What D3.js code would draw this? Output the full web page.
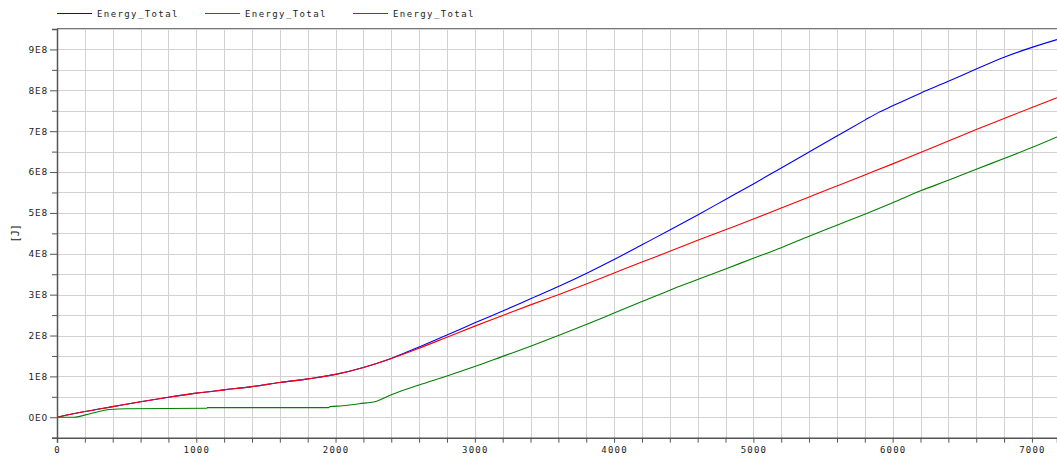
<!DOCTYPE html>
<html>
<head>
<meta charset="utf-8">
<script src="https://cdn.jsdelivr.net/npm/d3@7"></script>
<style>
  html, body { margin: 0; padding: 0; background: #fff; }
  svg { display: block; }
  text { font-family: "DejaVu Sans Mono", monospace; fill: #222; }
</style>
</head>
<body>
<svg id="chart" width="1057" height="458"></svg>
<script>
// ---- data ----
const seriesNames = ["Energy_Total", "Energy_Total", "Energy_Total"];
const seriesColors = ["#0000ff", "#ff0000", "#008000"];

const timeBlue = [0, 200, 400, 600, 800, 1000, 1200, 1400, 1600, 1800, 2000, 2200, 2400, 2600, 2800, 3000, 3200, 3400, 3600, 3800, 4000, 4200, 4400, 4600, 4800, 5000, 5200, 5400, 5600, 5800, 5900, 6000, 6200, 6400, 6600, 6800, 7000, 7180];
const blueValues = [0, 0.14e8, 0.26e8, 0.38e8, 0.49e8, 0.59e8, 0.67e8, 0.75e8, 0.85e8, 0.94e8, 1.05e8, 1.22e8, 1.44e8, 1.72e8, 2.01e8, 2.31e8, 2.60e8, 2.90e8, 3.20e8, 3.52e8, 3.86e8, 4.22e8, 4.58e8, 4.95e8, 5.33e8, 5.71e8, 6.10e8, 6.49e8, 6.88e8, 7.27e8, 7.46e8, 7.62e8, 7.93e8, 8.22e8, 8.52e8, 8.81e8, 9.05e8, 9.24e8];

const timeRed = [0, 200, 400, 600, 800, 1000, 1200, 1400, 1600, 1800, 2000, 2200, 2400, 2600, 2800, 3000, 3200, 3400, 3600, 3800, 4000, 4200, 4400, 4600, 4800, 5000, 5200, 5400, 5600, 5800, 6000, 6200, 6400, 6600, 6800, 7000, 7180];
const redValues = [0, 0.14e8, 0.26e8, 0.38e8, 0.49e8, 0.59e8, 0.67e8, 0.75e8, 0.85e8, 0.94e8, 1.05e8, 1.22e8, 1.44e8, 1.69e8, 1.96e8, 2.23e8, 2.49e8, 2.75e8, 3.00e8, 3.26e8, 3.53e8, 3.80e8, 4.06e8, 4.33e8, 4.59e8, 4.85e8, 5.12e8, 5.39e8, 5.66e8, 5.93e8, 6.20e8, 6.48e8, 6.76e8, 7.04e8, 7.31e8, 7.58e8, 7.82e8];

const timeGreen = [0, 120, 250, 380, 500, 1075, 1080, 1950, 1960, 2050, 2170, 2300, 2400, 2600, 2800, 3000, 3200, 3400, 3600, 3800, 4000, 4200, 4400, 4600, 4800, 5000, 5200, 5400, 5600, 5800, 6000, 6200, 6400, 6600, 6800, 7000, 7180];
const greenValues = [0, 0, 0.10e8, 0.19e8, 0.21e8, 0.22e8, 0.235e8, 0.235e8, 0.26e8, 0.28e8, 0.33e8, 0.40e8, 0.55e8, 0.79e8, 1.01e8, 1.24e8, 1.49e8, 1.74e8, 2.00e8, 2.27e8, 2.55e8, 2.83e8, 3.11e8, 3.37e8, 3.63e8, 3.89e8, 4.15e8, 4.43e8, 4.70e8, 4.97e8, 5.25e8, 5.54e8, 5.80e8, 6.07e8, 6.33e8, 6.60e8, 6.86e8];

const xTickLabels = [0, 1000, 2000, 3000, 4000, 5000, 6000, 7000];
const yTickLabels = [0, 1e8, 2e8, 3e8, 4e8, 5e8, 6e8, 7e8, 8e8, 9e8];
const yAxisTitle = "[J]";

// ---- layout ----
const svg = d3.select("#chart");
const plotLeft = 57, plotRight = 1057, plotTop = 29, plotBottom = 437.7;

const x = d3.scaleLinear().domain([0, 7180]).range([plotLeft, plotRight]);
const y = d3.scaleLinear().domain([-0.5e8, 9.5e8]).range([plotBottom, plotTop]);

const xGrid = d3.range(200, 7181, 200);
const yGrid = d3.range(-0.5e8, 9.51e8, 0.5e8);

// grid
const g = svg.append("g");
g.selectAll("line.vg").data(xGrid).enter().append("line")
  .attr("x1", d => Math.round(x(d)) + 0.5).attr("x2", d => Math.round(x(d)) + 0.5)
  .attr("y1", plotTop).attr("y2", plotBottom)
  .attr("stroke", "#d2d2d2").attr("stroke-width", 1);
g.selectAll("line.hg").data(yGrid).enter().append("line")
  .attr("x1", plotLeft).attr("x2", plotRight)
  .attr("y1", d => Math.round(y(d)) + 0.5).attr("y2", d => Math.round(y(d)) + 0.5)
  .attr("stroke", "#d2d2d2").attr("stroke-width", 1);

// top border
svg.append("line").attr("x1", plotLeft).attr("x2", plotRight)
  .attr("y1", plotTop - 0.5).attr("y2", plotTop - 0.5)
  .attr("stroke", "#777").attr("stroke-width", 1);

// series
const series = [
  { t: timeBlue, v: blueValues, c: seriesColors[0] },
  { t: timeRed, v: redValues, c: seriesColors[1] },
  { t: timeGreen, v: greenValues, c: seriesColors[2] }
];
const line = d3.line().x(d => x(d[0])).y(d => y(d[1])).curve(d3.curveMonotoneX);
series.forEach(s => {
  svg.append("path")
    .datum(s.t.map((t, i) => [t, s.v[i]]))
    .attr("d", line)
    .attr("fill", "none")
    .attr("stroke", s.c)
    .attr("stroke-width", 1.1);
});

// x axis
const xMinor = d3.range(0, 7181, 200);
const xAxis = d3.axisBottom(x).tickValues(xMinor)
  .tickSize(5)
  .tickFormat(d => xTickLabels.includes(d) ? String(d) : "");
const xa = svg.append("g").attr("transform", `translate(0,${plotBottom})`).call(xAxis);
xa.select(".domain").attr("stroke", "#555").attr("stroke-width", 1.5);
xa.selectAll(".tick line").attr("stroke", "#555");
xa.selectAll(".tick text").attr("font-size", 9).attr("letter-spacing", 1.2)
  .attr("fill", "#222").attr("y", 9).attr("dy", "0.71em")
  .style("font-family", "'DejaVu Sans Mono', monospace");

// y axis
const yMinor = d3.range(-0.5e8, 9.51e8, 0.5e8);
const yAxis = d3.axisLeft(y).tickValues(yMinor)
  .tickSize(5)
  .tickFormat(d => {
    const m = yTickLabels.find(v => Math.abs(v - d) < 1);
    if (m === undefined) return "";
    return m === 0 ? "0E0" : Math.round(m / 1e8) + "E8";
  });
const ya = svg.append("g").attr("transform", `translate(${plotLeft},0)`).call(yAxis);
ya.select(".domain").attr("stroke", "#555").attr("stroke-width", 1.5);
ya.selectAll(".tick line")
  .attr("stroke", "#555")
  .attr("x2", d => yTickLabels.some(v => Math.abs(v - d) < 1) ? -7 : -5);
ya.selectAll(".tick text").attr("font-size", 9).attr("letter-spacing", 0.8)
  .attr("fill", "#222").attr("x", -9)
  .style("font-family", "'DejaVu Sans', sans-serif");

// y axis title
svg.append("text")
  .attr("transform", `translate(19,${(plotTop + plotBottom) / 2}) rotate(-90)`)
  .attr("text-anchor", "middle")
  .attr("font-size", 10)
  .text(yAxisTitle);

// legend
const legendX = [57, 205, 353];
const lg = svg.append("g");
series.forEach((s, i) => {
  lg.append("line")
    .attr("x1", legendX[i]).attr("x2", legendX[i] + 35)
    .attr("y1", 13.5).attr("y2", 13.5)
    .attr("stroke", s.c).attr("stroke-width", 1);
  lg.append("text")
    .attr("x", legendX[i] + 40).attr("y", 17)
    .attr("font-size", 9).attr("letter-spacing", 1.4)
    .text(seriesNames[i]);
});
</script>
</body>
</html>
